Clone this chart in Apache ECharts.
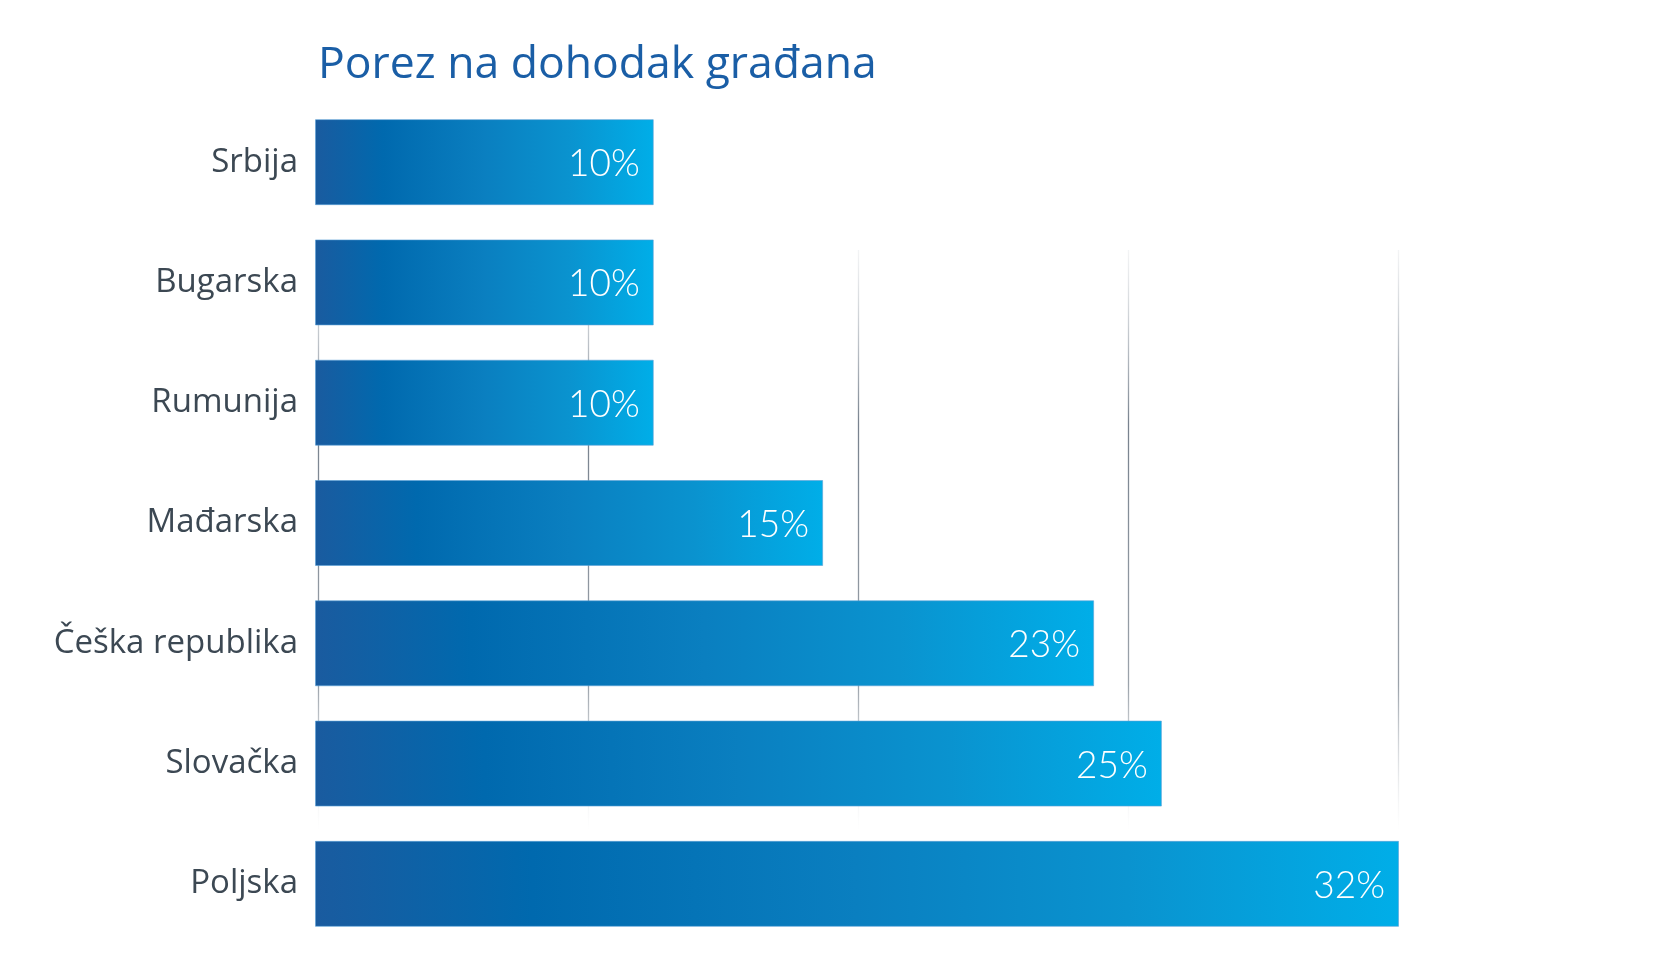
<!DOCTYPE html>
<html>
<head>
<meta charset="utf-8">
<script src="https://cdn.jsdelivr.net/npm/echarts@6/dist/echarts.min.js"></script>
<style>
html,body{margin:0;padding:0;background:#fff;}
#chart{width:1667px;height:959px;}
</style>
</head>
<body>
<div id="chart"></div>
<script>
const titleText = 'Porez na dohodak građana';
const categories = ['Srbija', 'Bugarska', 'Rumunija', 'Mađarska', 'Češka republika', 'Slovačka', 'Poljska'];
const values = [10, 10, 10, 15, 23, 25, 32];
const axisMax = 32;
const axisInterval = 8;

const chart = echarts.init(document.getElementById('chart'), null, {renderer: 'canvas'});

const barGradient = new echarts.graphic.LinearGradient(0, 0, 1, 0, [
  {offset: 0, color: '#1a5b9f'},
  {offset: 0.2, color: '#0069ae'},
  {offset: 0.5, color: '#0a7fc0'},
  {offset: 0.75, color: '#0a93cf'},
  {offset: 1, color: '#00aee8'}
]);

const gridLineGradient = {
  type: 'linear', x: 0, y: 250, x2: 0, y2: 830, global: true,
  colorStops: [
    {offset: 0, color: 'rgba(175,182,190,0.15)'},
    {offset: 0.3, color: 'rgba(120,130,142,1)'},
    {offset: 0.75, color: 'rgba(145,153,162,0.9)'},
    {offset: 1, color: 'rgba(210,214,218,0)'}
  ]
};

chart.setOption({
  animation: false,
  backgroundColor: '#ffffff',
  title: {
    text: titleText,
    left: 313,
    top: 38,
    textStyle: {
      fontFamily: 'Open Sans',
      fontWeight: 'normal',
      fontSize: 44.5,
      color: '#1a5ea6'
    }
  },
  grid: [
    {left: 315, right: 268, top: 102, bottom: 15},
    {left: 318, width: 1080, top: 250, height: 580}
  ],
  xAxis: [
    {
      type: 'value', gridIndex: 0, min: 0, max: axisMax, interval: axisInterval,
      axisLine: {show: false}, axisTick: {show: false}, axisLabel: {show: false},
      splitLine: {show: false}
    },
    {
      type: 'value', gridIndex: 1, min: 0, max: axisMax, interval: axisInterval,
      axisLine: {show: false}, axisTick: {show: false}, axisLabel: {show: false},
      splitLine: {show: true, lineStyle: {color: gridLineGradient, width: 1.3}}
    }
  ],
  yAxis: [
    {
      type: 'category', gridIndex: 0, inverse: true, data: categories,
      axisLine: {show: false}, axisTick: {show: false},
      axisLabel: {
        margin: 17,
        fontFamily: 'Open Sans',
        fontSize: 33,
        color: '#3c4853'
      }
    },
    {
      type: 'category', gridIndex: 1, data: categories, show: false
    }
  ],
  series: [
    {
      type: 'bar',
      xAxisIndex: 0, yAxisIndex: 0,
      data: values,
      barWidth: 86,
      z: 3,
      itemStyle: {
        color: barGradient,
        borderColor: 'rgba(90,160,215,0.6)',
        borderWidth: 1
      },
      label: {
        show: true,
        position: 'insideRight',
        distance: 14,
        formatter: '{c}%',
        color: '#ffffff',
        fontFamily: 'Lato',
        fontWeight: 300,
        fontSize: 37,
        offset: [0, 2]
      }
    },
    {
      type: 'bar',
      xAxisIndex: 1, yAxisIndex: 1,
      data: [],
      silent: true
    }
  ]
});
</script>
</body>
</html>
